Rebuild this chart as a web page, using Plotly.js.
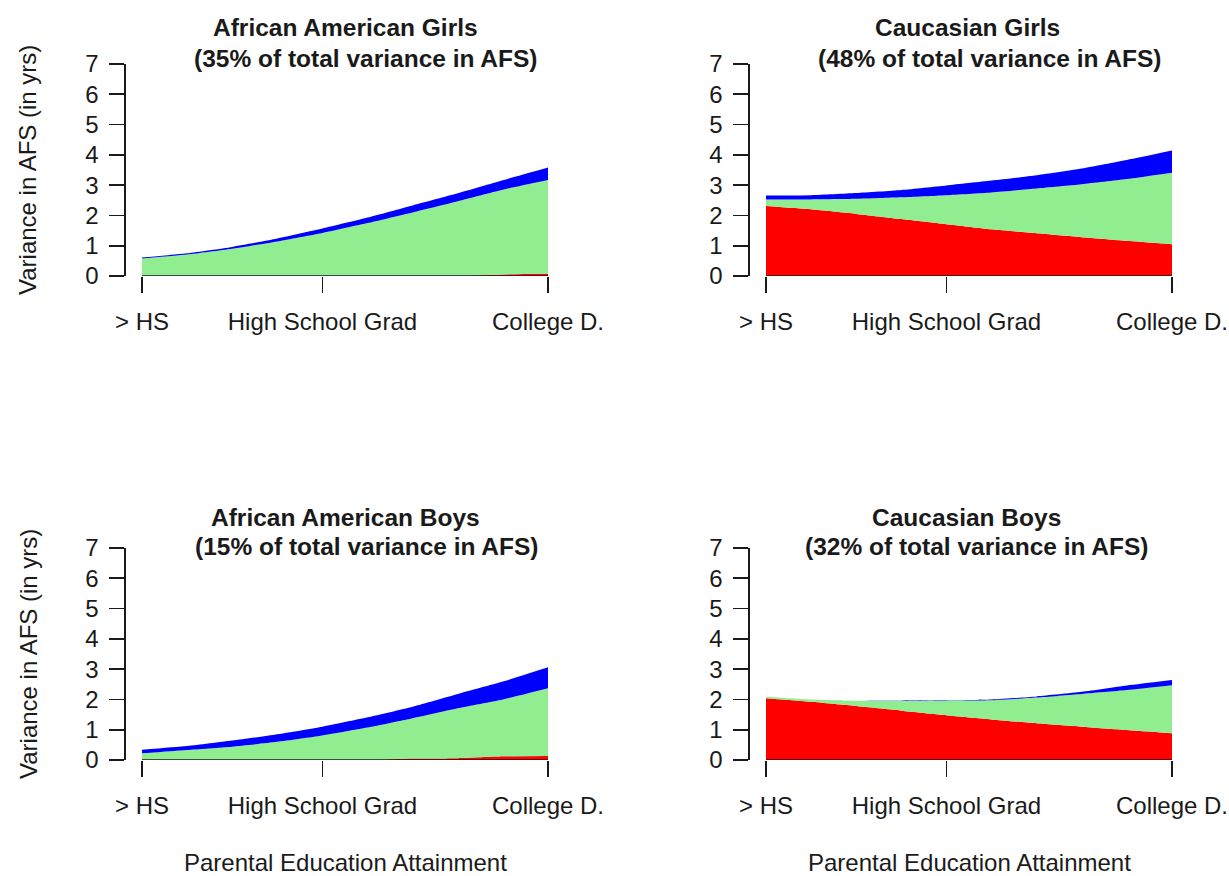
<!DOCTYPE html>
<html>
<head>
<meta charset="utf-8">
<script src="https://cdn.plot.ly/plotly-3.0.1.min.js"></script>
<style>
  html, body { margin: 0; padding: 0; background: #ffffff; }
  #chart { width: 1229px; height: 876px; }
</style>
</head>
<body>
<div id="chart"></div>
<script>
// Parental education in years of schooling, with the three labelled levels
const years = [8, 9, 10, 11, 12, 13, 14, 15, 16, 17];
const tickYears = [8, 12, 17];
const tickNames = ['> HS', 'High School Grad', 'College D.'];

// Variance components (years^2 of AFS), stacked red / green / blue
const aaGirlsRed   = [0, 0, 0, 0, 0, 0, 0, 0, 0.05, 0.08];
const aaGirlsGreen = [0.58, 0.71, 0.90, 1.14, 1.42, 1.75, 2.10, 2.47, 2.80, 3.09];
const aaGirlsBlue  = [0.03, 0.04, 0.06, 0.10, 0.15, 0.18, 0.23, 0.26, 0.31, 0.41];

const caGirlsRed   = [2.31, 2.20, 2.05, 1.88, 1.71, 1.54, 1.41, 1.28, 1.16, 1.05];
const caGirlsGreen = [0.22, 0.33, 0.50, 0.72, 0.96, 1.22, 1.48, 1.75, 2.04, 2.36];
const caGirlsBlue  = [0.13, 0.14, 0.19, 0.24, 0.32, 0.39, 0.44, 0.52, 0.63, 0.73];

const aaBoysRed    = [0, 0, 0, 0, 0, 0, 0.05, 0.06, 0.12, 0.13];
const aaBoysGreen  = [0.22, 0.33, 0.44, 0.60, 0.81, 1.07, 1.33, 1.65, 1.88, 2.24];
const aaBoysBlue   = [0.12, 0.13, 0.20, 0.25, 0.29, 0.34, 0.38, 0.47, 0.59, 0.69];

const caBoysRed    = [2.04, 1.92, 1.78, 1.63, 1.48, 1.34, 1.21, 1.10, 0.99, 0.88];
const caBoysGreen  = [0.05, 0.08, 0.18, 0.32, 0.48, 0.63, 0.85, 1.08, 1.32, 1.59];
const caBoysBlue   = [0, 0, 0, 0.01, 0.01, 0.03, 0.04, 0.07, 0.15, 0.17];

const panelTitles = [
  ['African American Girls', '(35% of total variance in AFS)'],
  ['Caucasian Girls', '(48% of total variance in AFS)'],
  ['African American Boys', '(15% of total variance in AFS)'],
  ['Caucasian Boys', '(32% of total variance in AFS)']
];
const yTitle = 'Variance in AFS (in yrs)';
const xTitle = 'Parental Education Attainment';

const W = 1229, H = 876;
const FONT = '"Liberation Sans", Arial, sans-serif';
const INK = '#1a1a1a';
const COLORS = { red: '#ff0000', green: '#90ee90', blue: '#0000ff' };

// pixel boxes of each plotting region: [left, right, top, bottom]
const boxes = [
  [126, 564, 64, 276],
  [750, 1188, 64, 276],
  [126, 564, 548, 760],
  [750, 1188, 548, 760]
];
// title line centres (px)
const titlePos = [
  [[345, 27.5], [366, 58.3]],
  [[967, 27.5], [990, 58.3]],
  [[345, 517.3], [367, 546.7]],
  [[966, 517.3], [976.5, 546.7]]
];

const series = [
  [aaGirlsRed, aaGirlsGreen, aaGirlsBlue],
  [caGirlsRed, caGirlsGreen, caGirlsBlue],
  [aaBoysRed, aaBoysGreen, aaBoysBlue],
  [caBoysRed, caBoysGreen, caBoysBlue]
];

const span = years[years.length - 1] - years[0];
const pad = span * 16 / 406;
const xRange = [years[0] - pad, years[years.length - 1] + pad];

const data = [];
const layout = {
  width: W, height: H,
  margin: { l: 0, r: 0, t: 0, b: 0 },
  paper_bgcolor: '#ffffff', plot_bgcolor: '#ffffff',
  showlegend: false,
  font: { family: FONT, size: 24, color: INK },
  shapes: [], annotations: []
};

series.forEach((s, i) => {
  const n = i + 1;
  const xa = n === 1 ? 'x' : 'x' + n;
  const ya = n === 1 ? 'y' : 'y' + n;
  const colorList = [COLORS.red, COLORS.green, COLORS.blue];
  s.forEach((vals, j) => {
    data.push({
      type: 'scatter', mode: 'lines',
      x: years, y: vals,
      xaxis: xa, yaxis: ya,
      stackgroup: 'panel' + n,
      line: { width: 0, shape: 'spline', smoothing: 0.6 },
      fillcolor: colorList[j],
      hoverinfo: 'skip'
    });
  });

  const b = boxes[i];
  const xKey = n === 1 ? 'xaxis' : 'xaxis' + n;
  const yKey = n === 1 ? 'yaxis' : 'yaxis' + n;
  layout[xKey] = {
    domain: [b[0] / W, b[1] / W],
    anchor: ya,
    range: xRange,
    showgrid: false, zeroline: false, showline: false,
    ticks: 'outside', ticklen: 16, tickwidth: 1.6, tickcolor: INK,
    tickmode: 'array', tickvals: tickYears, ticktext: tickNames,
    ticklabelstandoff: 8,
    tickfont: { family: FONT, size: 24, color: INK },
    fixedrange: true
  };
  layout[yKey] = {
    domain: [1 - b[3] / H, 1 - b[2] / H],
    anchor: xa,
    range: [0, 7],
    showgrid: false, zeroline: false,
    showline: true, linecolor: INK, linewidth: 1.6,
    ticks: 'outside', ticklen: 15, tickwidth: 1.6, tickcolor: INK,
    tickmode: 'array', tickvals: [0, 1, 2, 3, 4, 5, 6, 7],
    ticklabelstandoff: 6,
    tickfont: { family: FONT, size: 24, color: INK },
    fixedrange: true
  };

  // x axis line spanning the first to last education level, at y = 0
  layout.shapes.push({
    type: 'line', xref: xa, yref: ya,
    x0: tickYears[0], x1: tickYears[tickYears.length - 1], y0: 0, y1: 0,
    line: { color: INK, width: 1.6 }
  });

  // two-line bold panel title
  panelTitles[i].forEach((txt, k) => {
    const p = titlePos[i][k];
    layout.annotations.push({
      xref: 'paper', yref: 'paper',
      x: p[0] / W, y: 1 - p[1] / H,
      xanchor: 'center', yanchor: 'middle',
      text: '<b>' + txt + '</b>', showarrow: false,
      font: { family: FONT, size: 24.5, color: INK }
    });
  });

  // y axis title on the left column
  if (n === 1 || n === 3) {
    layout.annotations.push({
      xref: 'paper', yref: 'paper',
      x: 28 / W, y: 1 - ((b[2] + b[3]) / 2) / H,
      xanchor: 'center', yanchor: 'middle',
      text: yTitle, textangle: -90, showarrow: false,
      font: { family: FONT, size: 24, color: INK }
    });
  }
  // x axis title under the bottom row
  if (n === 3 || n === 4) {
    layout.annotations.push({
      xref: 'paper', yref: 'paper',
      x: ((b[0] + b[1]) / 2) / W, y: 1 - 862 / H,
      xanchor: 'center', yanchor: 'middle',
      text: xTitle, showarrow: false,
      font: { family: FONT, size: 24, color: INK }
    });
  }
});

Plotly.newPlot('chart', data, layout, { displayModeBar: false, staticPlot: true });
</script>
</body>
</html>
